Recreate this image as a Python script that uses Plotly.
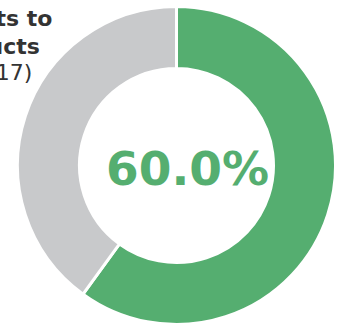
import plotly.graph_objects as go

labels = ["Target products", "Other"]
values = [60.0, 40.0]
colors = ["#55AE70", "#C8C9CB"]
center_text = "60.0%"
title_lines = ["Ratio of shipments to", "environmental products", "(FY2017)"]
title_bold = [True, True, False]

W, H = 344, 325
cx, cy, r = 176.5, 165.5, 159

fig = go.Figure(go.Pie(
    labels=labels, values=values, hole=0.61, sort=False,
    direction="clockwise", rotation=0,
    marker=dict(colors=colors, line=dict(color="white", width=3)),
    textinfo="none", hoverinfo="label+percent", showlegend=False,
    domain=dict(x=[(cx - r) / W, (cx + r) / W], y=[(H - cy - r) / H, (H - cy + r) / H]),
))

annotations = [dict(
    text=f"<b>{center_text}</b>", x=187 / W, y=1 - 168 / H, xref="paper", yref="paper",
    xanchor="center", yanchor="middle", showarrow=False,
    font=dict(family="DejaVu Sans", size=47, color="#55AE70"),
)]
right_edges = [54, 42, 34]
centers = [19, 47, 72]
for t, b, rx, yc in zip(title_lines, title_bold, right_edges, centers):
    annotations.append(dict(
        text=f"<b>{t}</b>" if b else t, x=rx / W, y=1 - yc / H, xref="paper", yref="paper",
        xanchor="right", yanchor="middle", showarrow=False,
        font=dict(family="DejaVu Sans", size=22, color="#333333"),
    ))

fig.update_layout(
    width=W, height=H, margin=dict(l=0, r=0, t=0, b=0),
    paper_bgcolor="white", plot_bgcolor="white", annotations=annotations,
)
fig.write_html("out.html")
